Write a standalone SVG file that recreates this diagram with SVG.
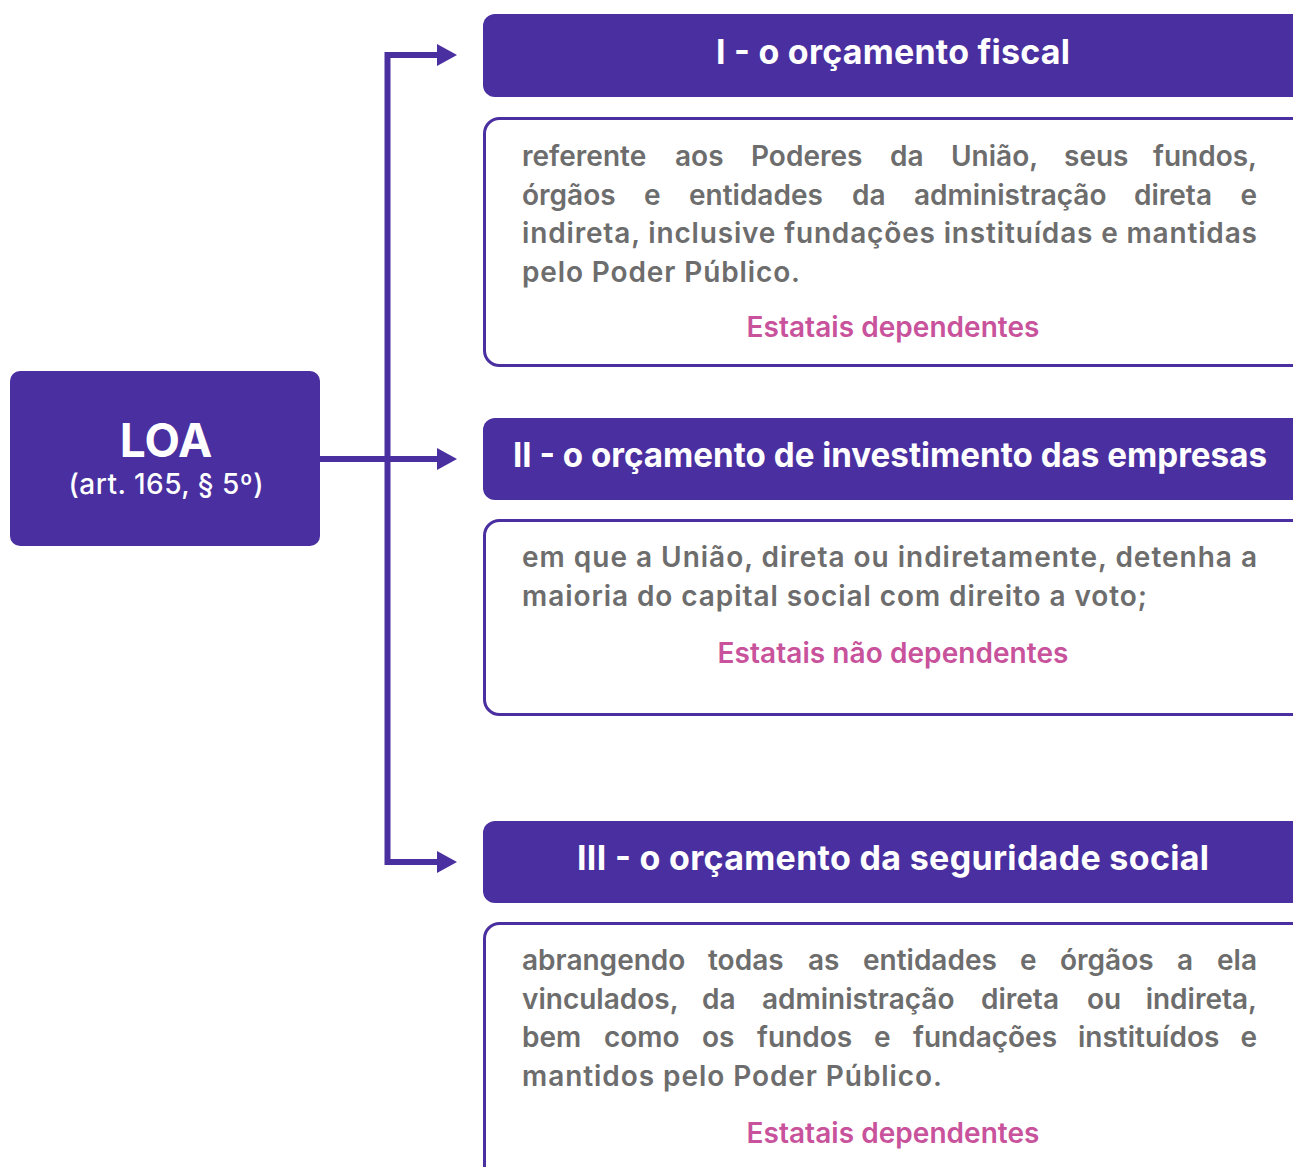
<svg xmlns="http://www.w3.org/2000/svg" width="1293" height="1167" viewBox="0 0 1293 1167">
<defs>
<style>
.hdr{fill:#4a2fa0}
.box{fill:#fff;stroke:#4a2fa0;stroke-width:3}
.ht{font-family:Inter,"Open Sans",sans-serif;font-weight:700;font-size:34px;fill:#fff;text-anchor:middle}
.bt{font-family:Inter,"Open Sans",sans-serif;font-weight:600;font-size:28px;fill:#6d6d6d}
.pk{font-family:Inter,"Open Sans",sans-serif;font-weight:600;font-size:28px;fill:#c8529b;text-anchor:middle}
.con{fill:none;stroke:#4a2fa0;stroke-width:6;stroke-linejoin:miter}
.e{text-anchor:end}
</style>
<marker id="arr" markerUnits="userSpaceOnUse" markerWidth="20" markerHeight="22" refX="0" refY="11" orient="auto">
<path d="M0 0 L20 11 L0 22 Z" fill="#4a2fa0"/>
</marker>
</defs>
<rect width="1293" height="1167" fill="#fff"/>

<g id="connectors">
<path class="con" d="M437 55 H387.5 V862 H437" marker-end="url(#arr)"/>
<path class="con" d="M387.5 55 H437" marker-end="url(#arr)"/>
<path class="con" d="M320 459 H437" marker-end="url(#arr)"/>
</g>

<g id="loa">
<rect x="10" y="371" width="310" height="175" rx="10" class="hdr"/>
<text x="166" y="457" font-family="Inter,'Open Sans',sans-serif" font-weight="700" font-size="46" fill="#fff" text-anchor="middle">LOA</text>
<text x="166" y="494" font-family="Inter,'Open Sans',sans-serif" font-weight="500" font-size="28" fill="#fff" text-anchor="middle" textLength="195" lengthAdjust="spacing">(art. 165, § 5º)</text>
</g>

<g id="header1">
<rect x="483" y="14" width="830" height="83" rx="12" class="hdr"/>
<text x="893" y="64" class="ht" textLength="354" lengthAdjust="spacing">I - o orçamento fiscal</text>
</g>
<g id="content1">
<rect x="484.5" y="118.5" width="830" height="247" rx="15" class="box"/>
<text class="bt" y="166"><tspan x="522">referente</tspan><tspan x="675">aos</tspan><tspan x="751">Poderes</tspan><tspan x="890">da</tspan><tspan x="951">União,</tspan><tspan x="1064">seus</tspan></text>
<text class="bt e" x="1257" y="166">fundos,</text>
<text class="bt" y="204.5"><tspan x="522">órgãos</tspan><tspan x="644">e</tspan><tspan x="689">entidades</tspan><tspan x="852">da</tspan><tspan x="914">administração</tspan><tspan x="1134">direta</tspan></text>
<text class="bt e" x="1257" y="204.5">e</text>
<text class="bt" x="522" y="243" textLength="735" lengthAdjust="spacing">indireta, inclusive fundações instituídas e mantidas</text>
<text class="bt" x="522" y="281.5" textLength="278" lengthAdjust="spacing">pelo Poder Público.</text>
<text class="pk" x="893" y="337" textLength="293" lengthAdjust="spacing">Estatais dependentes</text>
</g>

<g id="header2">
<rect x="483" y="418" width="830" height="82" rx="12" class="hdr"/>
<text x="890" y="467" class="ht" textLength="754" lengthAdjust="spacingAndGlyphs">II - o orçamento de investimento das empresas</text>
</g>
<g id="content2">
<rect x="484.5" y="520.5" width="830" height="194" rx="15" class="box"/>
<text class="bt" x="522" y="567" textLength="735" lengthAdjust="spacing">em que a União, direta ou indiretamente, detenha a</text>
<text class="bt" x="522" y="605.5" textLength="625" lengthAdjust="spacing">maioria do capital social com direito a voto;</text>
<text class="pk" x="893" y="663" textLength="351" lengthAdjust="spacing">Estatais não dependentes</text>
</g>

<g id="header3">
<rect x="483" y="821" width="830" height="82" rx="12" class="hdr"/>
<text x="893" y="870" class="ht" textLength="632" lengthAdjust="spacing">III - o orçamento da seguridade social</text>
</g>
<g id="content3">
<rect x="484.5" y="923.5" width="830" height="280" rx="15" class="box"/>
<text class="bt" y="970"><tspan x="522">abrangendo</tspan><tspan x="708">todas</tspan><tspan x="808">as</tspan><tspan x="863">entidades</tspan><tspan x="1020">e</tspan><tspan x="1060">órgãos</tspan><tspan x="1177">a</tspan></text>
<text class="bt e" x="1257" y="970">ela</text>
<text class="bt" y="1008.5"><tspan x="522">vinculados,</tspan><tspan x="702">da</tspan><tspan x="762">administração</tspan><tspan x="981">direta</tspan><tspan x="1087">ou</tspan></text>
<text class="bt e" x="1257" y="1008.5">indireta,</text>
<text class="bt" y="1047"><tspan x="522">bem</tspan><tspan x="604">como</tspan><tspan x="702">os</tspan><tspan x="757">fundos</tspan><tspan x="874">e</tspan><tspan x="913">fundações</tspan><tspan x="1078">instituídos</tspan></text>
<text class="bt e" x="1257" y="1047">e</text>
<text class="bt" x="522" y="1085.5" textLength="420" lengthAdjust="spacing">mantidos pelo Poder Público.</text>
<text class="pk" x="893" y="1143" textLength="293" lengthAdjust="spacing">Estatais dependentes</text>
</g>
</svg>
